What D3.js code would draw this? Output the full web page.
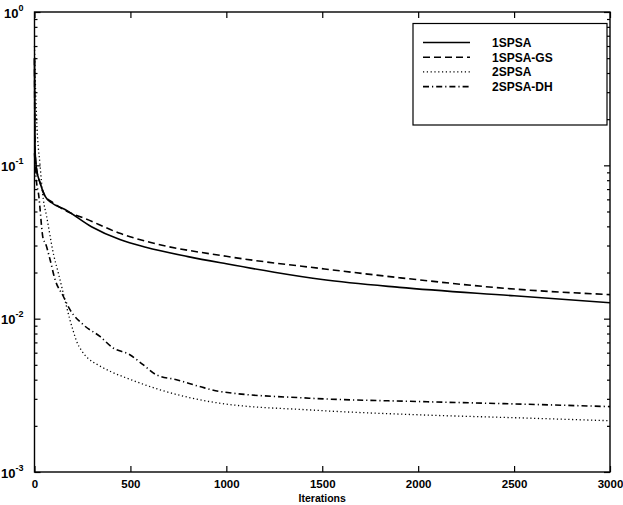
<!DOCTYPE html>
<html>
<head>
<meta charset="utf-8">
<script src="https://cdn.jsdelivr.net/npm/d3@7"></script>
<style>
  body { margin: 0; background: #fff; }
  svg { display: block; }
  text { font-family: "Liberation Sans", Arial, sans-serif; fill: #000; }
</style>
</head>
<body>
<svg width="623" height="505"></svg>
<script>
// series: [iteration, value]
var spsa1 = [[0,0.5],[3,0.126],[11,0.094],[29,0.077],[55,0.063],[89,0.057],[159,0.0515],[297,0.0398],[445,0.0328],[580,0.0292],[800,0.0254],[1000,0.0228],[1250,0.0201],[1500,0.018],[1902,0.016],[2500,0.0141],[3000,0.0127]];
var spsa1gs = [[0,0.5],[3,0.126],[11,0.094],[29,0.077],[55,0.063],[89,0.058],[124,0.054],[297,0.0432],[445,0.036],[601,0.0315],[1000,0.0255],[1512,0.0211],[1902,0.0185],[2500,0.0156],[3000,0.01435]];
var spsa2 = [[0,0.6],[5,0.33],[11,0.2],[29,0.1],[46,0.06],[63,0.0466],[100,0.026],[124,0.0199],[141,0.0163],[167,0.012],[185,0.0098],[202,0.0083],[220,0.0071],[245,0.0062],[280,0.0055],[330,0.005],[400,0.0045],[480,0.0041],[653,0.00344],[965,0.00281],[1433,0.00254],[2005,0.00236],[2500,0.00226],[3000,0.00216]];
var spsa2dh = [[0,0.12],[11,0.077],[20,0.0666],[46,0.0328],[55,0.0314],[81,0.0243],[107,0.018],[150,0.014],[185,0.01145],[254,0.00914],[341,0.00766],[410,0.00644],[497,0.00582],[566,0.00501],[636,0.0043],[740,0.004],[861,0.00361],[965,0.00335],[1433,0.00303],[2005,0.00288],[2500,0.00278],[3000,0.00267]];

var seriesNames = ["1SPSA", "1SPSA-GS", "2SPSA", "2SPSA-DH"];
var xTicks = [0, 500, 1000, 1500, 2000, 2500, 3000];
var yTicks = [1e-3, 1e-2, 1e-1, 1];
var yExps = ["-3", "-2", "-1", "0"];

var dashes = ["none", "7,4", "1.2,2.6", "6,3,1.2,3"];
var all = [spsa1, spsa1gs, spsa2, spsa2dh];

var svg = d3.select("svg");
var pL = 34.5, pR = 610, pT = 12, pB = 472;

var x = d3.scaleLinear().domain([0, 3000]).range([pL, pR]);
var y = d3.scaleLog().domain([1e-3, 1]).range([pB, pT]);

var minor = [];
[1e-3, 1e-2, 1e-1].forEach(function(d) {
  for (var k = 2; k < 10; k++) minor.push(d * k);
});

// box
svg.append("rect")
  .attr("x", pL).attr("y", pT)
  .attr("width", pR - pL).attr("height", pB - pT)
  .attr("fill", "none").attr("stroke", "#000").attr("stroke-width", 1.4);

function styleAxis(g) {
  g.select(".domain").remove();
  g.selectAll(".tick line").attr("stroke", "#000").attr("stroke-width", 1.2);
}

svg.append("g").attr("transform", "translate(0," + pB + ")")
  .call(d3.axisBottom(x).tickValues(xTicks).tickSize(-6).tickPadding(8).tickFormat(d3.format("d")))
  .call(styleAxis)
  .selectAll("text").attr("font-size", 11.5).attr("font-weight", "bold");

svg.append("g").attr("transform", "translate(0," + pT + ")")
  .call(d3.axisTop(x).tickValues(xTicks).tickSize(-6).tickFormat(""))
  .call(styleAxis);

// y major + minor, left and right
svg.append("g").attr("transform", "translate(" + pL + ",0)")
  .call(d3.axisLeft(y).tickValues(minor).tickSize(-3).tickFormat(""))
  .call(styleAxis);
svg.append("g").attr("transform", "translate(" + pR + ",0)")
  .call(d3.axisRight(y).tickValues(minor).tickSize(-3).tickFormat(""))
  .call(styleAxis);
svg.append("g").attr("transform", "translate(" + pR + ",0)")
  .call(d3.axisRight(y).tickValues(yTicks).tickSize(-6).tickFormat(""))
  .call(styleAxis);

var yl = svg.append("g").attr("transform", "translate(" + pL + ",0)")
  .call(d3.axisLeft(y).tickValues(yTicks).tickSize(-6).tickFormat(""))
  .call(styleAxis);

yl.selectAll(".tick").each(function(d, i) {
  var t = d3.select(this).append("text")
    .attr("x", -11).attr("y", 5)
    .attr("text-anchor", "end")
    .attr("font-size", 13).attr("font-weight", "bold");
  t.append("tspan").text("10");
  t.append("tspan").attr("dy", -7).attr("font-size", 9).text(yExps[i]);
});

svg.append("text")
  .attr("x", (pL + pR) / 2).attr("y", 502)
  .attr("text-anchor", "middle")
  .attr("font-size", 10.5).attr("font-weight", "bold")
  .text("Iterations");

var line = d3.line()
  .x(function(d) { return x(d[0]); })
  .y(function(d) { return y(d[1]); })
  .curve(d3.curveMonotoneX);

svg.append("g").selectAll("path")
  .data(all)
  .enter().append("path")
  .attr("d", line)
  .attr("fill", "none")
  .attr("stroke", "#000")
  .attr("stroke-width", function(d, i) { return i == 2 ? 1.3 : 1.6; })
  .attr("stroke-dasharray", function(d, i) { return dashes[i]; });

// legend
var lg = svg.append("g");
lg.append("rect")
  .attr("x", 413).attr("y", 23.5).attr("width", 194).attr("height", 101.5)
  .attr("fill", "#fff").attr("stroke", "#000").attr("stroke-width", 1.2);

var rows = lg.selectAll("g.row").data(seriesNames).enter().append("g")
  .attr("transform", function(d, i) { return "translate(0," + (42.5 + i * 14.7) + ")"; });
rows.append("line")
  .attr("x1", 423).attr("x2", 470)
  .attr("stroke", "#000")
  .attr("stroke-width", function(d, i) { return i == 2 ? 1.3 : 1.6; })
  .attr("stroke-dasharray", function(d, i) { return dashes[i]; });
rows.append("text")
  .attr("x", 492).attr("y", 4.5)
  .attr("font-size", 12).attr("font-weight", "bold")
  .text(function(d) { return d; });
</script>
</body>
</html>
